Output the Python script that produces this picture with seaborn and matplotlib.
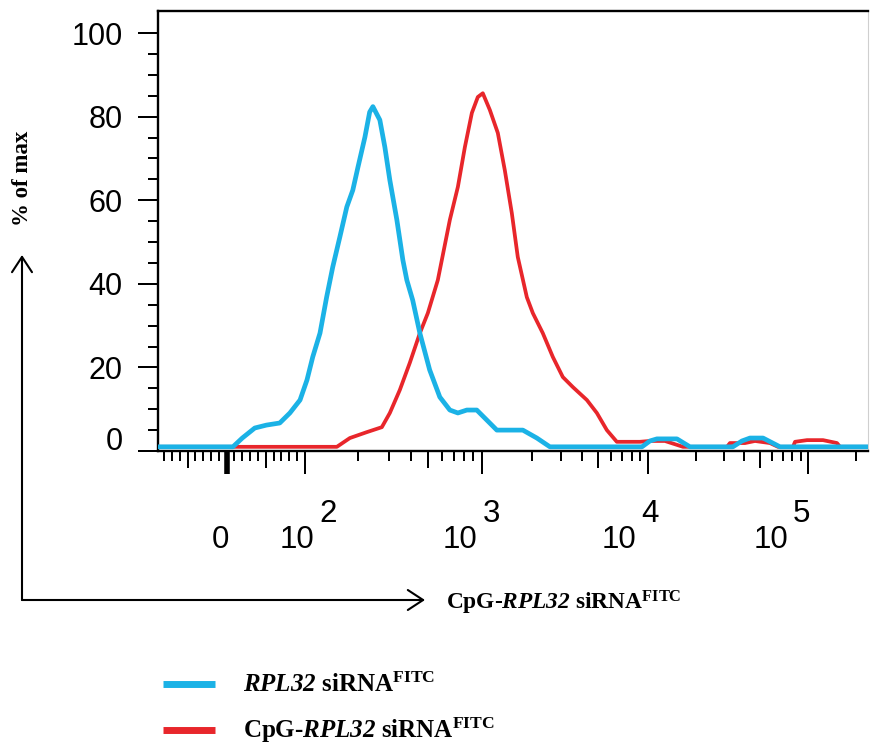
import numpy as np
import matplotlib
matplotlib.use('Agg')
import matplotlib.pyplot as plt
import matplotlib.transforms as mtransforms
from matplotlib.lines import Line2D
import seaborn as sns

# fluorescence intensity (FITC) vs % of max
blue_x = [-88, 8, 20, 36, 51, 68, 81, 94, 103, 111, 122, 133, 144, 158, 173, 187, 200, 219, 233, 243,
          266, 284, 303, 332, 359, 378, 408, 448, 509, 581, 662, 735, 826, 940, 1076, 1236, 1771, 2151,
          2576, 9210, 10290, 11380, 15180, 18300, 33950, 38680, 43400, 52360, 66830, 237000]
blue_y = [1.0, 1.0, 3.1, 5.5, 6.2, 6.7, 9.1, 12.2, 17.0, 22.5, 28.2, 36.8, 44.0, 51.2, 58.4, 62.4, 67.9,
          75.1, 81.1, 82.4, 79.2, 72.7, 64.8, 55.3, 45.7, 40.9, 36.1, 28.2, 19.4, 12.9, 9.8, 9.1, 9.8,
          9.8, 7.4, 5.0, 5.0, 3.1, 1.0, 1.0, 2.4, 2.9, 2.9, 1.0, 1.0, 2.4, 3.1, 3.1, 1.0, 1.0]

red_x = [-88, 152, 180, 224, 273, 303, 345, 393, 448, 497, 566, 662, 735, 805, 882, 953, 1018, 1122,
         1253, 1380, 1521, 1652, 1872, 2034, 2335, 2683, 3080, 3538, 4297, 4933, 5665, 6504, 8954,
         10290, 12770, 16560, 31190, 32540, 40360, 46650, 57870, 64940, 80540, 82990, 98610, 124100,
         151700, 158500, 237000]
red_y = [1.0, 1.0, 3.1, 4.5, 5.7, 9.1, 14.6, 21.1, 28.2, 33.0, 40.9, 55.3, 63.2, 72.7, 80.9, 84.7,
         85.6, 81.6, 76.1, 67.2, 56.9, 46.4, 36.8, 33.0, 28.2, 22.5, 17.7, 15.3, 12.2, 9.1, 5.0, 2.2,
         2.2, 2.4, 2.4, 1.0, 1.0, 1.9, 1.9, 2.4, 1.9, 1.0, 1.0, 2.2, 2.6, 2.6, 1.9, 1.0, 1.0]

x_major = [0, 1e2, 1e3, 1e4, 1e5]
x_exponents = ['', '2', '3', '4', '5']
y_major = [0, 20, 40, 60, 80, 100]

# mathtext rm = bold italic (gene name), sf = bold upright (superscript)
blue_label = r'$\mathrm{RPL32}$ siRNA$^{\mathsf{FITC}}$'
red_label = r'CpG-$\mathrm{RPL32}$ siRNA$^{\mathsf{FITC}}$'
blue = '#1BB2E6'
red = '#E8262B'

# logicle-like display: linear around zero, log decades above 100
lin_width = 78.0
dec_pos = [78.0, 254.7, 421.0, 581.0, 741.0]
dec_log = [2, 3, 4, 5, 6]


def fwd(v):
    v = np.asarray(v, dtype=float)
    lg = np.interp(np.log10(np.maximum(v, 100.0)), dec_log, dec_pos)
    return np.where(v <= 100, v / 100.0 * lin_width, lg)


def inv(p):
    p = np.asarray(p, dtype=float)
    lg = 10 ** np.interp(p, dec_pos, dec_log)
    return np.where(p <= lin_width, p / lin_width * 100.0, lg)


sns.set_style('ticks')
plt.rcParams['font.family'] = ['Liberation Sans', 'DejaVu Sans']
plt.rcParams['text.color'] = 'black'
plt.rcParams['xtick.labelcolor'] = 'black'
plt.rcParams['ytick.labelcolor'] = 'black'
plt.rcParams['mathtext.fontset'] = 'custom'
plt.rcParams['mathtext.rm'] = 'Liberation Serif:italic:bold'
plt.rcParams['mathtext.it'] = 'Liberation Serif:italic:bold'
plt.rcParams['mathtext.sf'] = 'Liberation Serif:bold'
plt.rcParams['mathtext.bf'] = 'Liberation Serif:bold'
serif = {'family': 'Liberation Serif', 'weight': 'bold'}

fig = plt.figure(figsize=(8.72, 7.47), dpi=100)
ax = fig.add_axes([158 / 872, 296 / 747, 710 / 872, 440.5 / 747])
ax.set_xscale('function', functions=(fwd, inv))

sns.lineplot(x=red_x, y=red_y, ax=ax, color=red, lw=2.7, sort=False, estimator=None, zorder=3)
sns.lineplot(x=blue_x, y=blue_y, ax=ax, color=blue, lw=3.4, sort=False, estimator=None, zorder=4)

ax.set_xlim(-88, 237000)
ax.set_ylim(0, 105.4)

# y axis
ax.set_yticks(y_major)
ax.set_yticks(np.arange(0, 101, 5), minor=True)
ax.tick_params(axis='y', which='major', length=14.4, width=1.44, pad=11, labelsize=22, color='black',
               labelcolor='black')
ax.tick_params(axis='y', which='minor', length=7.2, width=1.44, color='black')
lbl0 = ax.get_yticklabels()[0]
lbl0.set_transform(lbl0.get_transform() + mtransforms.ScaledTranslation(0, 13 / 100, fig.dpi_scale_trans))

# x axis ticks
minor_vals = [-80, -70, -60, -50, -40, -30, -20, -10, 10, 20, 30, 40, 50, 60, 70, 80, 90]
for n in (2, 3, 4):
    minor_vals += [k * 10 ** n for k in range(2, 10)]
minor_vals += [2e5]
ax.set_xticks(x_major, labels=[''] * len(x_major))
ax.set_xticks(minor_vals, minor=True)
ax.tick_params(axis='x', which='major', length=16.5, width=1.44, color='black')
ax.tick_params(axis='x', which='minor', length=7.2, width=1.44, color='black')
for t, v in zip(ax.xaxis.get_minor_ticks(), minor_vals):
    if str(int(abs(v))).startswith('5'):
        t.tick1line.set_markersize(12.2)
ax.xaxis.get_major_ticks()[0].tick1line.set_markeredgewidth(4)

# x tick labels (base + raised exponent, FlowJo style)
label_dx = [-6, 10, -4, -12, -20]
for v, e, dx in zip(x_major, x_exponents, label_dx):
    if e == '':
        ax.annotate('0', xy=(v, 0), xycoords=('data', 'axes fraction'), xytext=(dx * 0.72, -69.8),
                    textcoords='offset points', ha='center', va='baseline', fontsize=22.5, color='black')
    else:
        ax.annotate('10', xy=(v, 0), xycoords=('data', 'axes fraction'), xytext=(dx * 0.72, -69.8),
                    textcoords='offset points', ha='right', va='baseline', fontsize=22.5, color='black')
        ax.annotate(e, xy=(v, 0), xycoords=('data', 'axes fraction'), xytext=((dx + 5) * 0.72, -51),
                    textcoords='offset points', ha='left', va='baseline', fontsize=22.5, color='black')

for s in ['left', 'bottom', 'top']:
    ax.spines[s].set_linewidth(1.7)
    ax.spines[s].set_color('black')
ax.spines['right'].set_linewidth(0.8)
ax.spines['right'].set_color('#cfcfcf')
ax.set_xlabel('')
ax.set_ylabel('')

# axis captions with arrows
fig.text(22 / 872, 1 - 178 / 747, '% of max', rotation=90, ha='center', va='center', fontsize=16.5,
         color='black', **serif)
corner = (22 / 872, 1 - 600 / 747)
arrow = dict(arrowstyle='->,head_length=0.55,head_width=0.36', lw=1.5, color='black', mutation_scale=20,
             shrinkA=0, shrinkB=0)
fig.add_artist(matplotlib.patches.FancyArrowPatch(corner, (22 / 872, 1 - 255 / 747),
                                                  transform=fig.transFigure, **arrow))
fig.add_artist(matplotlib.patches.FancyArrowPatch(corner, (425 / 872, 1 - 600 / 747),
                                                  transform=fig.transFigure, **arrow))
fig.text(446 / 872, 1 - 603 / 747, red_label, ha='left', va='center', fontsize=16.8, color='black', **serif)

# legend
handles = [Line2D([], [], color=blue, lw=5, solid_capstyle='butt'),
           Line2D([], [], color=red, lw=5, solid_capstyle='butt')]
leg = fig.legend(handles, [blue_label, red_label], loc='upper left', bbox_to_anchor=(163 / 872, 1 - 673 / 747),
                 frameon=False, borderpad=0, borderaxespad=0, handlelength=2.08, handletextpad=1.12,
                 labelspacing=0.75, prop={'family': 'Liberation Serif', 'weight': 'bold', 'size': 18})
for txt in leg.get_texts():
    txt.set_color('black')

fig.savefig('out.png', dpi=100)
